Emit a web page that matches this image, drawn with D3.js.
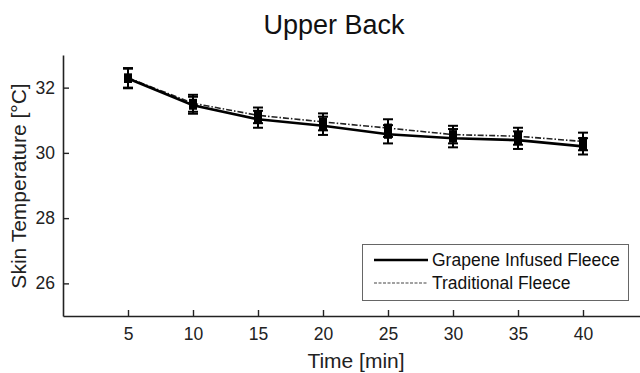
<!DOCTYPE html>
<html>
<head>
<meta charset="utf-8">
<script src="https://cdn.jsdelivr.net/npm/d3@7"></script>
<style>
  body { margin: 0; background: #fff; }
  svg { display: block; font-family: "Liberation Sans", Arial, sans-serif; }
</style>
</head>
<body>
<svg id="chart" width="640" height="373"></svg>
<script>
// ---- data ----
var times = [5, 10, 15, 20, 25, 30, 35, 40];
var graphene = [32.28, 31.46, 31.03, 30.83, 30.57, 30.45, 30.39, 30.20];
var grapheneErr = [0.30, 0.26, 0.26, 0.28, 0.28, 0.28, 0.27, 0.25];
var traditional = [32.30, 31.52, 31.15, 30.95, 30.76, 30.56, 30.51, 30.35];
var traditionalErr = [0.30, 0.26, 0.24, 0.26, 0.27, 0.27, 0.26, 0.27];
var yTicks = [26, 28, 30, 32];
var xTicks = [5, 10, 15, 20, 25, 30, 35, 40];

var seriesList = [
  {name: "Traditional Fleece", values: traditional, err: traditionalErr, dash: "6,2,1.5,2", width: 1.6, color: "#222"},
  {name: "Grapene Infused Fleece", values: graphene, err: grapheneErr, dash: null, width: 2.6, color: "#000"}
];

var svg = d3.select("#chart");

var x = d3.scaleLinear().domain([0, 45]).range([63, 648]);
var y = d3.scaleLinear().domain([25, 33]).range([316, 55]);

// axes (ticks inside, like the matlab figure)
var xAxis = d3.axisBottom(x).tickValues(xTicks).tickSizeInner(-6).tickSizeOuter(0).tickPadding(12);
var yAxis = d3.axisLeft(y).tickValues(yTicks).tickSizeInner(-6).tickSizeOuter(0).tickPadding(8);

var gx = svg.append("g").attr("transform", "translate(0,316)").call(xAxis);
var gy = svg.append("g").attr("transform", "translate(63,0)").call(yAxis);

[gx, gy].forEach(function(g) {
  g.select(".domain").attr("stroke", "#222").attr("stroke-width", 1.6);
  g.selectAll(".tick line").attr("stroke", "#222").attr("stroke-width", 1.4);
  g.selectAll(".tick text").attr("fill", "#222").style("font-size", "17.5px")
    .style("font-family", "'Liberation Sans', Arial, sans-serif");
});

// lines
var line = d3.line().x(function(d) { return x(d.t); }).y(function(d) { return y(d.v); });

seriesList.forEach(function(s) {
  var pts = times.map(function(t, i) { return {t: t, v: s.values[i], e: s.err[i]}; });

  svg.append("path")
    .datum(pts)
    .attr("d", line)
    .attr("fill", "none")
    .attr("stroke", s.color)
    .attr("stroke-width", s.width)
    .attr("stroke-dasharray", s.dash);

  var eb = svg.append("g").selectAll("g").data(pts).enter().append("g");
  eb.append("line")
    .attr("x1", function(d) { return x(d.t); }).attr("x2", function(d) { return x(d.t); })
    .attr("y1", function(d) { return y(d.v - d.e); }).attr("y2", function(d) { return y(d.v + d.e); })
    .attr("stroke", "#000").attr("stroke-width", 2);
  [-1, 1].forEach(function(sign) {
    eb.append("line")
      .attr("x1", function(d) { return x(d.t) - 5; }).attr("x2", function(d) { return x(d.t) + 5; })
      .attr("y1", function(d) { return y(d.v + sign * d.e); }).attr("y2", function(d) { return y(d.v + sign * d.e); })
      .attr("stroke", "#000").attr("stroke-width", 2);
  });
  eb.append("rect")
    .attr("x", function(d) { return x(d.t) - 4; })
    .attr("y", function(d) { return y(d.v) - 4.5; })
    .attr("width", 8).attr("height", 9)
    .attr("fill", "#000");
});

// title & labels
svg.append("text").attr("x", 334).attr("y", 34).attr("text-anchor", "middle")
  .style("font-size", "27px").attr("fill", "#111").text("Upper Back");

svg.append("text").attr("x", 356).attr("y", 368).attr("text-anchor", "middle")
  .style("font-size", "21px").attr("fill", "#222").text("Time [min]");

svg.append("text").attr("transform", "translate(26,186) rotate(-90)").attr("text-anchor", "middle")
  .style("font-size", "21px").attr("fill", "#222").text("Skin Temperature [°C]");

// legend
var legend = svg.append("g");
legend.append("rect").attr("x", 362.5).attr("y", 244.5).attr("width", 266).attr("height", 56)
  .attr("fill", "#fff").attr("stroke", "#666").attr("stroke-width", 1);

var legendItems = [seriesList[1], seriesList[0]];
legendItems.forEach(function(s, i) {
  var ly = 260 + i * 23;
  legend.append("line").attr("x1", 374).attr("x2", 428).attr("y1", ly).attr("y2", ly)
    .attr("stroke", s.dash ? "#444" : s.color).attr("stroke-width", s.dash ? 1.2 : s.width)
    .attr("stroke-dasharray", s.dash ? "3,1.5" : null);
  legend.append("text").attr("x", 432).attr("y", ly + 6)
    .style("font-size", "17.5px").attr("fill", "#111").text(s.name);
});
</script>
</body>
</html>
